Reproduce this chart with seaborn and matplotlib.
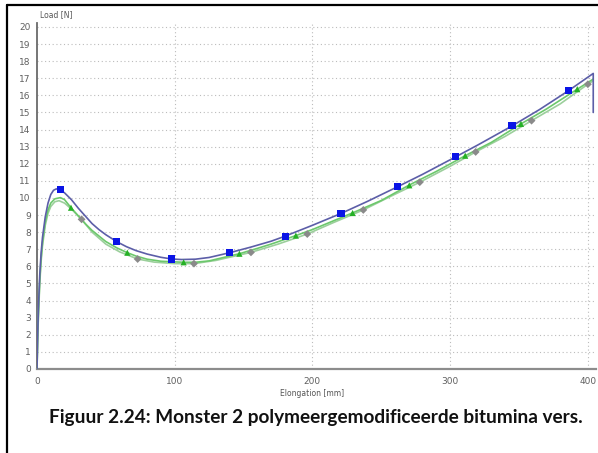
import numpy as np
import pandas as pd
import matplotlib
matplotlib.use("Agg")
import matplotlib.pyplot as plt
from matplotlib.ticker import MultipleLocator
from matplotlib.lines import Line2D
import seaborn as sns

# Load–elongation curves of three specimens (elongation in mm, load in N)
elong_a = [0, 0.5, 1, 2, 3, 4, 6, 8, 10, 12, 14, 17, 20, 25, 30, 35, 40, 45, 50,
           58, 65, 72, 80, 90, 98, 105, 115, 125, 140, 155, 170, 180, 200, 221,
           240, 262, 280, 304, 320, 345, 365, 386, 404, 404]
load_a = [0, 2.0, 3.5, 5.5, 6.8, 7.7, 8.9, 9.7, 10.2, 10.45, 10.53, 10.47, 10.3,
          9.9, 9.4, 8.95, 8.5, 8.15, 7.85, 7.44, 7.15, 6.92, 6.72, 6.53, 6.43,
          6.40, 6.42, 6.52, 6.80, 7.12, 7.47, 7.76, 8.40, 9.10, 9.80, 10.66,
          11.38, 12.40, 13.09, 14.21, 15.17, 16.27, 17.28, 15.0]

elong_b = [0, 0.5, 1, 2, 3, 4, 6, 8, 10, 13, 17, 20, 24.7, 30, 35, 40, 50, 58,
           65.6, 72, 80, 90, 106.5, 115, 125, 147, 160, 170, 188, 200, 229, 250,
           270, 290, 311, 330, 351.5, 370, 392.4, 404]
load_b = [0, 1.8, 3.2, 5.2, 6.5, 7.4, 8.6, 9.3, 9.7, 9.95, 10.02, 9.9, 9.43,
          8.95, 8.5, 8.1, 7.45, 7.08, 6.80, 6.6, 6.42, 6.3, 6.24, 6.24, 6.32,
          6.74, 7.05, 7.3, 7.80, 8.15, 9.12, 9.85, 10.74, 11.55, 12.47, 13.25,
          14.33, 15.2, 16.36, 16.95]

elong_c = [0, 0.5, 1, 2, 3, 4, 6, 8, 10, 13, 16, 20, 25, 32.4, 40, 50, 60, 73.1,
           85, 100, 114, 130, 155.4, 175, 196.3, 215, 237, 257, 278, 300, 318.6,
           340, 359.2, 380, 400.1, 404]
load_c = [0, 1.7, 3.0, 5.0, 6.3, 7.2, 8.4, 9.1, 9.5, 9.78, 9.84, 9.7, 9.35,
          8.75, 8.0, 7.3, 6.85, 6.43, 6.25, 6.16, 6.16, 6.35, 6.82, 7.3, 7.89,
          8.55, 9.30, 10.1, 10.92, 11.85, 12.69, 13.6, 14.52, 15.5, 16.65, 16.85]

# Marker positions along each curve
mark_a_x = [17, 58, 98, 140, 180.3, 220.8, 262, 304, 345, 386]
mark_a_y = [10.47, 7.44, 6.43, 6.80, 7.76, 9.10, 10.66, 12.40, 14.21, 16.27]
mark_b_x = [24.7, 65.6, 106.5, 147, 188, 229.2, 270.4, 311, 351.5, 392.4]
mark_b_y = [9.43, 6.80, 6.24, 6.74, 7.80, 9.12, 10.74, 12.47, 14.33, 16.36]
mark_c_x = [32.4, 73.1, 114, 155.4, 196.3, 237, 278, 318.6, 359.2, 400.1]
mark_c_y = [8.75, 6.43, 6.16, 6.82, 7.89, 9.30, 10.92, 12.69, 14.52, 16.65]

x_ticks = [0, 100, 200, 300, 400]
y_ticks = list(range(0, 21))

x_label = "Elongation [mm]"
y_label = "Load [N]"
caption = "Figuur 2.24: Monster 2 polymeergemodificeerde bitumina vers."

sns.set_style("white")
plt.rcParams["font.family"] = ["DejaVu Sans"]

W, H = 598, 453
fig = plt.figure(figsize=(W / 100, H / 100), dpi=100)
ax = fig.add_axes([37 / W, (H - 369) / H, (596 - 37) / W, (369 - 23.5) / H])

line_a = "#5c5ea8"
line_b = "#6cc86c"
line_c = "#9ccf9c"

df_a = pd.DataFrame({"x": elong_a, "y": load_a})
df_b = pd.DataFrame({"x": elong_b, "y": load_b})
df_c = pd.DataFrame({"x": elong_c, "y": load_c})

line_kw = dict(x="x", y="y", sort=False, estimator=None, lw=1.2, ax=ax)
sns.lineplot(data=df_c, color=line_c, zorder=3, **line_kw)
sns.lineplot(data=df_b, color=line_b, zorder=4, **line_kw)
sns.lineplot(data=df_a, color=line_a, zorder=5, **line_kw)

sns.scatterplot(x=mark_c_x, y=mark_c_y, ax=ax, marker="D", s=16, color="#8a8a8a",
                edgecolor="none", zorder=6)
sns.scatterplot(x=mark_b_x, y=mark_b_y, ax=ax, marker="^", s=20, color="#25b025",
                edgecolor="none", zorder=6)
sns.scatterplot(x=mark_a_x, y=mark_a_y, ax=ax, marker="s", s=26, color="#0a14e6",
                edgecolor="none", zorder=7)

ax.set_xlim(0, 406)
ax.set_ylim(0, 20.2)
ax.set_xticks(x_ticks)
ax.set_yticks(y_ticks)
ax.xaxis.set_minor_locator(MultipleLocator(50))
ax.yaxis.set_minor_locator(MultipleLocator(0.5))
ax.set_xlabel("")
ax.set_ylabel("")

grid_kw = dict(color="#bcbcbc", lw=0.8, linestyle=(0, (1, 2.4)), zorder=1)
for yv in y_ticks[1:]:
    ax.axhline(yv, **grid_kw)
for xv in x_ticks[1:]:
    ax.axvline(xv, **grid_kw)

for side in ("top", "right"):
    ax.spines[side].set_visible(False)
ax.spines["left"].set_color("#6a6a6a")
ax.spines["left"].set_linewidth(1.3)
ax.spines["bottom"].set_color("#8c8c8c")
ax.spines["bottom"].set_linewidth(1.6)

ax.tick_params(axis="both", which="major", direction="inout", length=5, width=1,
               color="#555555", labelsize=6.5, labelcolor="#606060", pad=2)
ax.tick_params(axis="both", which="minor", direction="inout", length=4, width=1,
               color="#555555")
ax.tick_params(axis="x", pad=3)

fig.text(40 / W, 1 - 15 / H, y_label, fontsize=5.5, color="#555555", va="center", ha="left")
fig.text(312 / W, 1 - 394 / H, x_label, fontsize=5.5, color="#555555", va="center", ha="center")
fig.text(49 / W, 1 - 417 / H, caption, fontsize=13.65, fontweight="bold",
         family=["Lato", "DejaVu Sans"], color="#111111", va="center", ha="left")

# Black frame at the top and left of the figure
fig.add_artist(Line2D([6.5 / W, 6.5 / W], [0, 1 - 5 / H], color="black", lw=1.6,
                      transform=fig.transFigure))
fig.add_artist(Line2D([6.5 / W, 1], [1 - 5 / H, 1 - 5 / H], color="black", lw=1.6,
                      transform=fig.transFigure))

fig.savefig("out.png", dpi=100, facecolor="white")
